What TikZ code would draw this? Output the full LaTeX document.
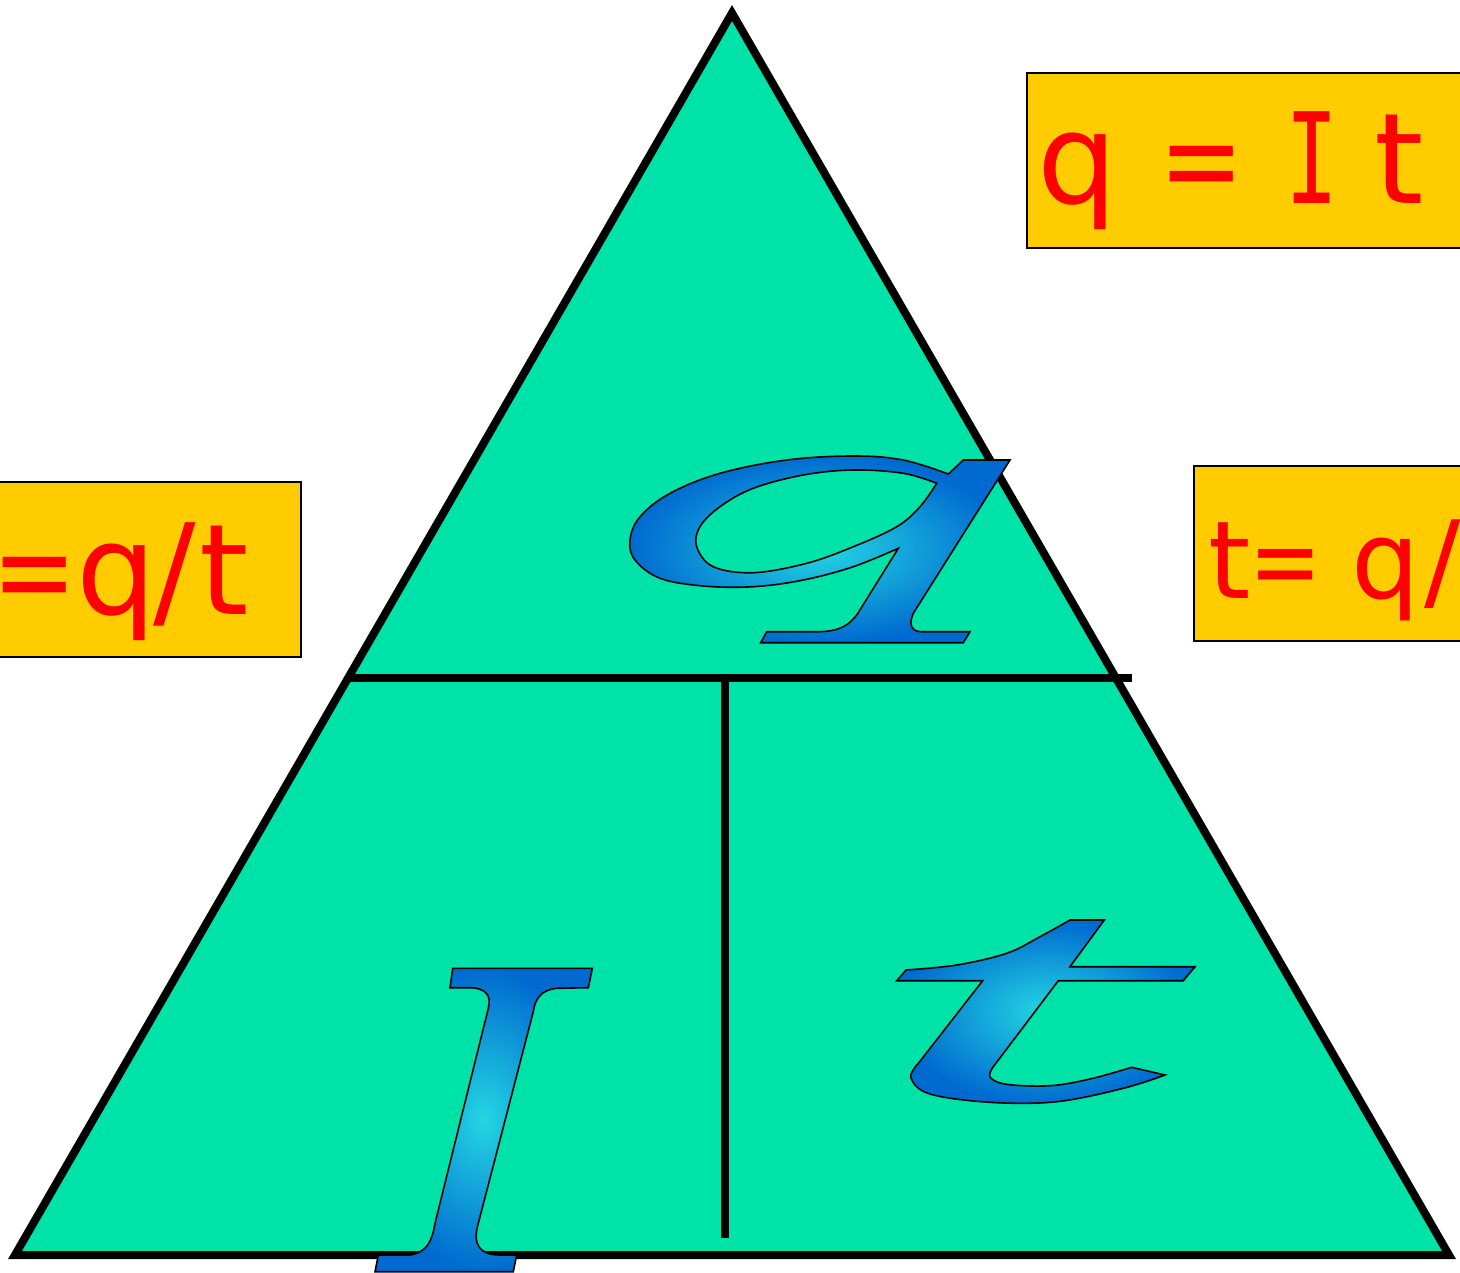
\documentclass[tikz,border=0pt]{standalone}
\usepackage{fontspec}
\setmainfont{DejaVu Sans}
\newfontfamily\serifI{DejaVu Sans Mono}
\definecolor{tri}{RGB}{0,227,168}
\definecolor{boxy}{RGB}{255,204,0}
\definecolor{lblue}{RGB}{0,106,208}
\definecolor{lcyan}{RGB}{36,214,226}
\newcommand{\narroweq}{\scalebox{0.8}[1]{=}}
\begin{document}
\begin{tikzpicture}[x=1pt,y=-1pt,
  letter/.style={draw=black,line width=1.6pt,inner color=lcyan,outer color=lblue},
  hole/.style={draw=black,line width=1.6pt,fill=tri},
  eqbox/.style={draw=black,line width=2pt,fill=boxy},
  eqtxt/.style={text=red,font=\fontsize{126}{130}\selectfont,inner sep=0pt,anchor=base},
  eqtxtsmall/.style={eqtxt,font=\fontsize{108}{112}\selectfont}]
\useasboundingbox (0,0) rectangle (1460,1273);
\clip (0,0) rectangle (1460,1273);
% triangle
\coordinate (apex) at (732,13);
\coordinate (bl) at (15,1255);
\coordinate (br) at (1449,1255);
\coordinate (hl) at (348,678);
\coordinate (hr) at (1132,678);
\coordinate (vt) at (725,678);
\coordinate (vb) at (725,1238);
\draw[line width=8pt,fill=tri,line join=miter] (apex) -- (br) -- (bl) -- cycle;
\draw[line width=7.5pt] (hl) -- (hr);
\draw[line width=7.5pt] (vt) -- (vb);
% boxes
\draw[eqbox] (1027,73) rectangle (1470,248);
\draw[eqbox] (-10,482) rectangle (301,657);
\draw[eqbox] (1194,466) rectangle (1470,641);
% top box text
\node[eqtxt] (t1) at (1077,204) {q};
\node[eqtxt] (t2) at (1202,204) {\narroweq};
\node[eqtxt] (t3) at (1312,204) {\scalebox{0.7}[1]{\serifI I}};
\node[eqtxt] (t4) at (1399,204) {t};
% left box text
\node[eqtxt] (l1) at (35,614) {\narroweq};
\node[eqtxt] (l2) at (116,614) {q};
\node[eqtxt] (l3) at (175,614) {/};
\node[eqtxt] (l4) at (224,614) {t};
% right box text
\node[eqtxtsmall] (r1) at (1230,598) {t};
\node[eqtxtsmall] (r2) at (1286,598) {\narroweq};
\node[eqtxtsmall] (r3) at (1386,598) {q};
\node[eqtxtsmall] (r4) at (1443,598) {/};
% letter q
\path[letter] (963.3,460) -- (1010,460) -- (913.3,613.3)
  .. controls (908,625) and (912,631.7) .. (921.7,631.7) -- (970,631.7) -- (963.3,642.7)
  -- (760.7,642.7) -- (766.7,631.7) -- (820,631.7)
  .. controls (840,631) and (850,625) .. (858,613)
  -- plot[smooth,tension=0.6] coordinates {(898.3,548.3) (853.3,566.7) (803.3,580) (753.3,586.7) (703.3,586) (660,578.3) (635,560) (630,540) (640,516.7) (670,493.3) (720,473.3) (786.7,460) (853.3,456) (903.3,460) (948.3,474)}
  -- cycle;
\path[hole] (936.7,483.3) -- plot[smooth,tension=0.6] coordinates {(936.7,483.3) (920,506.7) (896.7,526.7) (853.3,546.7) (806.7,563.3) (753.3,572.7) (713.3,566.7) (696.7,546.7) (700,526.7) (720,506.7) (753.3,488.3) (803.3,475) (853.3,470) (903.3,473.3) (936.7,483.3)} -- cycle;
% letter I
\path[letter] (452.7,968.3) -- (592.3,968.3) -- (588.3,987.7) -- (556.7,988.3)
  .. controls (540,990) and (535,1000) .. (533.3,1011.7) -- (478.3,1223.3)
  .. controls (472,1245) and (480,1255) .. (500,1255) -- (516.7,1255) -- (513.3,1271.7)
  -- (375,1271.7) -- (378.3,1255) -- (410,1255)
  .. controls (428,1252) and (432,1240) .. (435,1223.3) -- (488.3,1008.3)
  .. controls (492,995) and (485,988) .. (470,987.7) -- (450,987.7) -- cycle;
% letter t
\path[letter] (1070,920) -- (1104.3,920) -- (1070,966.7) -- (1195,966.7) -- (1183.3,980.7)
  -- (1058.3,980.7) -- (993.3,1066.7)
  -- plot[smooth,tension=0.6] coordinates {(993.3,1066.7) (990,1077) (1006.7,1084.3) (1050,1085.7) (1090,1079) (1131.7,1067.3)}
  -- (1165,1075)
  -- plot[smooth,tension=0.6] coordinates {(1165,1075) (1123.3,1088.3) (1056.7,1101.7) (990,1102.3) (930,1094) (911,1078) (918.3,1063.3)}
  -- (982.7,980.7) -- (896.7,980.7) -- (906,970)
  -- plot[smooth,tension=0.6] coordinates {(906,970) (956.7,965) (1006.7,953.3) (1040,936.7) (1070,920)}
  -- cycle;
\end{tikzpicture}
\end{document}
